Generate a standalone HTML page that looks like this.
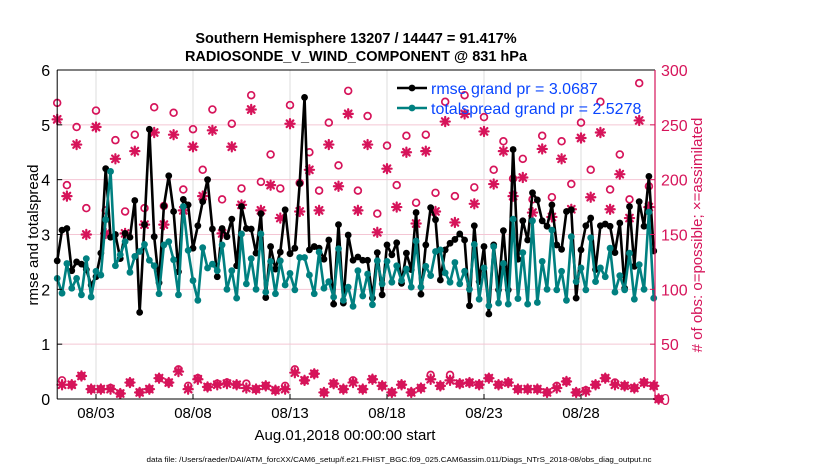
<!DOCTYPE html>
<html><head><meta charset="utf-8"><style>
html,body{margin:0;padding:0;background:#fff;}
svg{display:block;font-family:"Liberation Sans",sans-serif;}
</style></head><body>
<svg id="chart" width="830" height="470" viewBox="0 0 830 470" xmlns="http://www.w3.org/2000/svg">
<rect x="0" y="0" width="830" height="470" fill="#fff"/>
<g id="grid"></g>
<g id="obs"></g>
<g id="lines"></g>
<g id="axes"></g>
<text x="356" y="43" text-anchor="middle" font-size="14.5" font-weight="bold">Southern Hemisphere 13207 / 14447 = 91.417%</text>
<text x="356" y="61" text-anchor="middle" font-size="14.5" font-weight="bold">RADIOSONDE_V_WIND_COMPONENT @ 831 hPa</text>
<text transform="translate(38,235) rotate(-90)" text-anchor="middle" font-size="15">rmse and totalspread</text>
<text transform="translate(702,235) rotate(-90)" text-anchor="middle" font-size="15" fill="#d6145a"># of obs: o=possible; ×=assimilated</text>
<text x="345" y="440" text-anchor="middle" font-size="15">Aug.01,2018 00:00:00 start</text>
<text x="399" y="462" text-anchor="middle" font-size="7.5" textLength="505" lengthAdjust="spacingAndGlyphs">data file: /Users/raeder/DAI/ATM_forcXX/CAM6_setup/f.e21.FHIST_BGC.f09_025.CAM6assim.011/Diags_NTrS_2018-08/obs_diag_output.nc</text>
<g id="legend"></g>
</svg>
<script>
const rmse=[2.52,3.08,3.11,2.34,2.50,2.46,2.36,2.08,2.23,2.66,4.2,2.95,3.0,2.56,3.02,2.95,3.62,1.58,3.18,4.92,2.96,2.12,3.52,4.07,3.42,2.32,3.64,3.54,2.75,3.16,3.6,4.0,3.1,2.23,3.11,2.96,3.28,2.43,3.51,3.11,3.1,2.66,3.38,1.85,2.78,2.37,2.68,3.45,2.65,2.75,3.93,5.5,2.72,2.78,2.75,2.55,2.9,1.73,3.18,1.75,2.99,2.53,2.59,2.53,2.53,1.84,2.67,1.90,2.81,2.63,2.85,2.11,2.66,2.36,3.40,1.91,2.81,3.49,3.27,2.17,2.72,2.84,2.91,3.01,2.90,1.70,3.16,2.14,2.78,1.55,2.81,1.99,3.07,1.99,4.55,2.55,3.25,2.90,3.76,3.63,3.25,3.15,3.54,2.81,2.73,3.42,3.45,1.84,2.72,3.16,3.30,2.36,3.16,3.19,3.15,2.67,3.21,2.02,3.51,2.42,3.60,3.15,4.06,2.70];
const spread=[2.20,1.93,2.47,2.02,2.20,1.90,2.56,1.86,2.33,2.26,3.27,4.15,2.43,2.63,2.87,2.31,2.60,2.69,2.82,2.53,2.43,1.92,2.81,2.87,2.54,1.90,3.51,2.71,2.16,1.80,2.76,2.39,2.46,2.34,2.81,2.00,2.34,1.84,3.01,2.10,2.56,2.00,3.01,1.95,2.51,1.92,2.52,2.08,2.29,1.99,2.58,2.58,2.26,1.92,2.68,2.02,2.14,1.86,2.74,1.80,2.04,1.69,2.34,1.88,2.28,1.72,2.52,2.10,2.51,2.13,2.43,2.16,2.37,2.04,2.88,2.04,2.42,2.25,2.69,2.72,2.30,2.13,2.49,2.10,2.33,2.00,2.82,1.82,2.39,1.70,2.78,1.75,2.47,1.73,3.28,1.83,2.67,1.73,3.25,1.76,2.51,2.00,3.08,1.99,2.33,1.80,2.96,2.14,2.39,1.99,2.94,2.14,2.39,2.23,2.75,1.95,2.25,1.99,2.66,1.82,2.45,2.00,3.41,1.84];
const possible=[270,17,195,13,248,21,174,9,263,9,172,10,236,5,171,15,241,6,174,9,266,19,176,15,261,27,191,12,246,19,209,11,264,14,182,15,251,13,192,14,277,9,198,12,223,8,192,12,268,27,197,17,225,23,190,6,252,14,213,9,281,17,190,9,258,18,169,12,231,6,195,13,240,6,179,10,241,22,188,12,271,22,185,14,277,15,193,13,257,19,209,13,235,15,201,9,219,9,182,9,240,6,184,12,235,16,196,6,252,8,209,13,271,19,191,15,223,12,182,10,288,15,194,12,0];
const assimilated=[255,13,185,13,232,21,150,9,248,9,151,9,219,5,151,15,226,6,159,9,243,19,159,15,241,25,172,9,230,18,185,11,245,13,151,14,230,13,177,10,264,9,172,12,195,8,165,9,251,24,171,17,209,23,172,6,232,14,194,9,260,15,172,9,232,18,152,12,210,6,175,13,225,6,160,10,226,18,171,12,253,17,161,14,260,15,178,13,244,19,196,13,226,15,185,9,202,9,170,9,228,6,166,10,219,16,173,6,238,7,184,13,243,19,173,13,205,12,165,10,254,15,175,12,0];
const yTicks=[0,1,2,3,4,5,6];
const y2Ticks=[0,50,100,150,200,250,300];
const xTickDays=[2,7,12,17,22,27];
const xTickLabels=["08/03","08/08","08/13","08/18","08/23","08/28"];
const legendLabels=["rmse grand pr = 3.0687","totalspread grand pr = 2.5278"];

const L=57.2,R=655,T=70,B=399,STEP=4.85;
const xs=i=>L+STEP*i;
const xd=d=>L+STEP*4*d;
const ys=v=>B-(B-T)*v/6;
const y2=v=>B-(B-T)*v/300;
const NS="http://www.w3.org/2000/svg";
const PINK="#d6145a",TEAL="#008080";
function mk(tag,attrs,parent){const e=document.createElementNS(NS,tag);for(const k in attrs)e.setAttribute(k,attrs[k]);parent.appendChild(e);return e;}
const grid=document.getElementById('grid'),axes=document.getElementById('axes'),obs=document.getElementById('obs'),lines=document.getElementById('lines'),leg=document.getElementById('legend');

xTickDays.forEach((d,k)=>{
  const g=mk('line',{x1:xd(d),x2:xd(d),y1:T,y2:B,stroke:'#dcdcdc','stroke-width':1},grid);
  
  
  const t=mk('line',{x1:xd(d),x2:xd(d),y1:B,y2:B-5,stroke:'#000','stroke-width':1},axes);
  
  
  const lb=mk('text',{x:xd(d),y:418,'text-anchor':'middle','font-size':15},axes);
  lb.textContent=xTickLabels[k];
  
  
});
yTicks.forEach(v=>{
  if(v>0&&v<6){const g=mk('line',{x1:L,x2:R,y1:ys(v),y2:ys(v),stroke:'#f4c6d4','stroke-width':1},grid);
  
  }
  const t=mk('line',{x1:L,x2:L+5,y1:ys(v),y2:ys(v),stroke:'#000'},axes);
  
  
  const lb=mk('text',{x:L-7,y:ys(v)+6,'text-anchor':'end','font-size':16},axes);
  lb.textContent=v;
  
  
});
y2Ticks.forEach(v=>{
  const t=mk('line',{x1:R-5,x2:R,y1:y2(v),y2:y2(v),stroke:PINK},axes);
  
  
  const lb=mk('text',{x:R+6,y:y2(v)+6,'font-size':16,fill:PINK},axes);
  lb.textContent=v;
  
  
});
let a=mk('line',{x1:L,x2:L,y1:T,y2:B,stroke:'#000'},axes);


a=mk('line',{x1:L,x2:R,y1:B,y2:B,stroke:'#000'},axes);


a=mk('line',{x1:L,x2:R,y1:T,y2:T,stroke:'#000'},axes);


a=mk('line',{x1:R,x2:R,y1:T,y2:B,stroke:PINK,'stroke-width':1.2},axes);



function star(cx,cy,parent){
  const g=mk('g',{stroke:PINK,'stroke-width':2.2,'stroke-linecap':'round'},parent);
  const r=4.6;
  mk('line',{x1:cx-r,x2:cx+r,y1:cy,y2:cy},g);
  mk('line',{x1:cx,x2:cx,y1:cy-r,y2:cy+r},g);
  mk('line',{x1:cx-r*0.72,x2:cx+r*0.72,y1:cy-r*0.72,y2:cy+r*0.72},g);
  mk('line',{x1:cx-r*0.72,x2:cx+r*0.72,y1:cy+r*0.72,y2:cy-r*0.72},g);
  return g;
}
possible.forEach((v,i)=>{
  const c=mk('circle',{cx:xs(i),cy:y2(v),r:3.4,fill:'none',stroke:PINK,'stroke-width':1.7},obs);
  
  
});
assimilated.forEach((v,i)=>{
  const s=star(xs(i),y2(v),obs);
  
  
});
function series(arr,color,name){
  const p=mk('polyline',{points:arr.map((v,i)=>xs(i)+','+ys(v)).join(' '),fill:'none',stroke:color,'stroke-width':2.6,'stroke-linejoin':'round'},lines);
  
  
  arr.forEach((v,i)=>{
    const c=mk('circle',{cx:xs(i),cy:ys(v),r:3.4,fill:color},lines);
    
    
  });
}
series(rmse,'#000','rmse');
series(spread,TEAL,'totalspread');

[['#000',88],[TEAL,108]].forEach((s,k)=>{
  const l=mk('line',{x1:397,x2:427,y1:s[1],y2:s[1],stroke:s[0],'stroke-width':2.6},leg);
  
  
  const c=mk('circle',{cx:412,cy:s[1],r:3.4,fill:s[0]},leg);
  
  
  const t=mk('text',{x:431,y:s[1]+6,'font-size':16,fill:'#0a46ff'},leg);
  t.textContent=legendLabels[k];
  
  
});
</script>
</body></html>
